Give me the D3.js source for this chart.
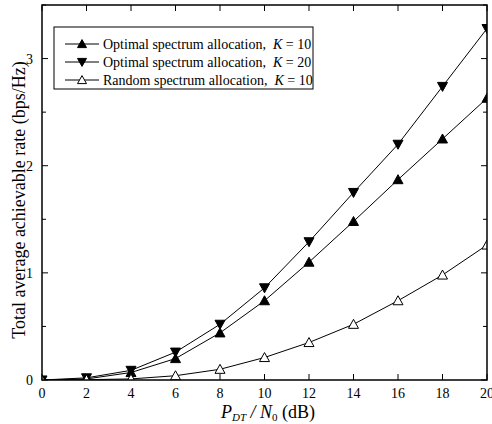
<!DOCTYPE html>
<html>
<head>
<meta charset="utf-8">
<script src="https://cdn.jsdelivr.net/npm/d3@7"></script>
<style>
  body { margin: 0; background: #fff; }
  text { font-family: "Liberation Serif", "Times New Roman", serif; }
</style>
</head>
<body>
<svg id="chart" width="492" height="424"></svg>
<script>
const snr = [0, 2, 4, 6, 8, 10, 12, 14, 16, 18, 20];
const optK10 = [0, 0.01, 0.07, 0.2, 0.44, 0.74, 1.1, 1.48, 1.87, 2.25, 2.63];
const optK20 = [0, 0.02, 0.09, 0.26, 0.52, 0.86, 1.29, 1.75, 2.2, 2.74, 3.28];
const randK10 = [0, 0.003, 0.01, 0.04, 0.1, 0.21, 0.35, 0.52, 0.74, 0.98, 1.26];
const xTicks = [0, 2, 4, 6, 8, 10, 12, 14, 16, 18, 20];
const yTicks = [0, 1, 2, 3];
const yMinor = [0.5, 1.5, 2.5, 3.5];

const series = [
    { name: "Optimal spectrum allocation, ", k: "10", values: optK10, shape: "up", fill: "#000" },
    { name: "Optimal spectrum allocation, ", k: "20", values: optK20, shape: "down", fill: "#000" },
    { name: "Random spectrum allocation, ", k: "10", values: randK10, shape: "up", fill: "#fff" }
];

const margin = { top: 5, right: 5, bottom: 44, left: 42 };
const width = 492 - margin.left - margin.right;
const height = 424 - margin.top - margin.bottom;

const svg = d3.select("#chart");
const g = svg.append("g").attr("transform", `translate(${margin.left},${margin.top})`);

svg.append("clipPath").attr("id", "plot-clip")
    .append("rect").attr("width", width).attr("height", height);

const x = d3.scaleLinear().domain([0, 20]).range([0, width]);
const y = d3.scaleLinear().domain([0, 3.5]).range([height, 0]);

// ticks pointing inward on all four sides
const tick = sel => sel.attr("stroke", "#000").attr("stroke-width", 1);
xTicks.forEach(t => {
    tick(g.append("line").attr("x1", x(t)).attr("x2", x(t)).attr("y1", height).attr("y2", height - 6));
    tick(g.append("line").attr("x1", x(t)).attr("x2", x(t)).attr("y1", 0).attr("y2", 6));
});
yTicks.concat(yMinor).forEach(t => {
    const len = yTicks.includes(t) ? 6 : 4;
    tick(g.append("line").attr("x1", 0).attr("x2", len).attr("y1", y(t)).attr("y2", y(t)));
    tick(g.append("line").attr("x1", width).attr("x2", width - len).attr("y1", y(t)).attr("y2", y(t)));
});

g.selectAll(".xlab")
    .data(xTicks)
    .join("text")
    .attr("x", d => x(d))
    .attr("y", height + 18)
    .attr("text-anchor", "middle")
    .attr("font-size", 14)
    .text(d => d);

g.selectAll(".ylab")
    .data(yTicks)
    .join("text")
    .attr("x", -9)
    .attr("y", d => y(d) + 5)
    .attr("text-anchor", "end")
    .attr("font-size", 14)
    .text(d => d);

const line = d3.line().x((d, i) => x(snr[i])).y(d => y(d));

const tri = (shape, w, h) => shape === "up"
    ? `M0,${-h * 0.55}L${w / 2},${h * 0.45}L${-w / 2},${h * 0.45}Z`
    : `M0,${h * 0.55}L${w / 2},${-h * 0.45}L${-w / 2},${-h * 0.45}Z`;

const plot = g.append("g").attr("clip-path", "url(#plot-clip)");
series.forEach(s => {
    plot.append("path")
        .attr("d", line(s.values))
        .attr("fill", "none")
        .attr("stroke", "#000")
        .attr("stroke-width", 1);
    plot.selectAll(null)
        .data(s.values)
        .join("path")
        .attr("transform", (d, i) => `translate(${x(snr[i])},${y(d)})`)
        .attr("d", tri(s.shape, 10, 9))
        .attr("fill", s.fill)
        .attr("stroke", "#000")
        .attr("stroke-width", 1);
});

g.append("rect")
    .attr("width", width)
    .attr("height", height)
    .attr("fill", "none")
    .attr("stroke", "#000")
    .attr("stroke-width", 1.5);

// legend
const legend = g.append("g").attr("transform", "translate(12,22)");
legend.append("rect")
    .attr("width", 259)
    .attr("height", 62)
    .attr("fill", "#fff")
    .attr("stroke", "#000")
    .attr("stroke-width", 1);

series.forEach((s, i) => {
    const ly = 17 + i * 18;
    legend.append("line")
        .attr("x1", 11).attr("x2", 45)
        .attr("y1", ly).attr("y2", ly)
        .attr("stroke", "#000");
    legend.append("path")
        .attr("transform", `translate(28,${ly})`)
        .attr("d", tri(s.shape, 9, 8))
        .attr("fill", s.fill)
        .attr("stroke", "#000");
    const t = legend.append("text")
        .attr("x", 49)
        .attr("y", ly + 5)
        .attr("font-size", 14)
        .attr("xml:space", "preserve");
    t.append("tspan").text(s.name + " ");
    t.append("tspan").attr("font-style", "italic").text("K");
    t.append("tspan").text(" = " + s.k);
});

// axis titles
svg.append("text")
    .attr("transform", `translate(25,200) rotate(-90)`)
    .attr("text-anchor", "middle")
    .attr("font-size", 18)
    .text("Total average achievable rate (bps/Hz)");

const xt = svg.append("text")
    .attr("x", 268)
    .attr("y", 418)
    .attr("text-anchor", "middle")
    .attr("font-size", 18)
    .attr("xml:space", "preserve");
xt.append("tspan").attr("font-style", "italic").text("P");
xt.append("tspan").attr("font-style", "italic").attr("font-size", 11).attr("dy", 3).text("DT");
xt.append("tspan").attr("dy", -3).attr("font-style", "italic").text(" / ");
xt.append("tspan").attr("font-style", "italic").text("N");
xt.append("tspan").attr("font-size", 11).attr("dy", 3).text("0");
xt.append("tspan").attr("dy", -3).text(" (dB)");
</script>
</body>
</html>
